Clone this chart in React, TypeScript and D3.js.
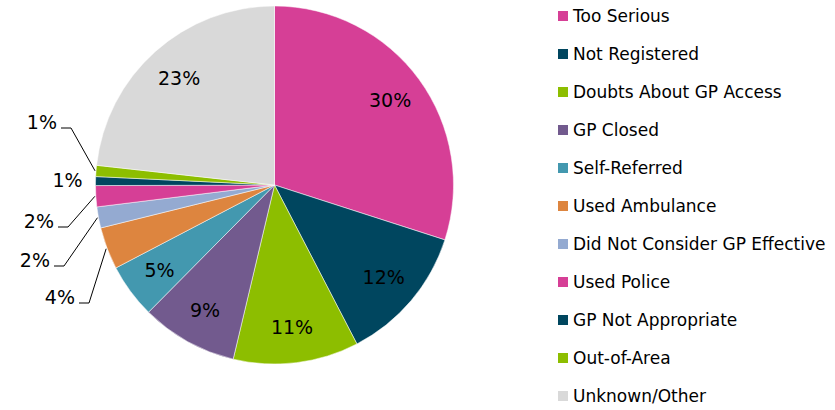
import React from "react";
import * as d3 from "d3";

const categories = [
  "Too Serious",
  "Not Registered",
  "Doubts About GP Access",
  "GP Closed",
  "Self-Referred",
  "Used Ambulance",
  "Did Not Consider GP Effective",
  "Used Police",
  "GP Not Appropriate",
  "Out-of-Area",
  "Unknown/Other",
];
const values = [29.9, 12.4, 11.3, 8.7, 4.9, 3.8, 1.9, 1.9, 0.8, 1.0, 23.2];
const colors = [
  "#D63F96",
  "#00465F",
  "#8DBE00",
  "#725A8E",
  "#4398AF",
  "#DD853F",
  "#94AAD1",
  "#D63F96",
  "#00465F",
  "#8DBE00",
  "#D9D9D9",
];

const W = 835;
const H = 410;
const cx = 274.5;
const cy = 185;
const R = 179;
const FONT = "'DejaVu Sans', Verdana, sans-serif";

// layout for labels placed outside the pie (index -> label y, elbow x)
const outside: Record<number, { y?: number; elbowX?: number; free?: boolean }> = {
  5: { y: 303, elbowX: 89 },
  6: { y: 266, elbowX: 64 },
  7: { y: 227, elbowX: 68 },
  8: { free: true },
  9: { y: 128, elbowX: 71 },
};

export default function App() {
  const total = d3.sum(values);
  const pie = d3.pie<number>().sort(null).value((d) => d)(values);
  const arc = d3.arc<d3.PieArcDatum<number>>().innerRadius(0).outerRadius(R);
  const inLabel = d3.arc<d3.PieArcDatum<number>>().innerRadius(143).outerRadius(143);
  const freeLabel = d3.arc<d3.PieArcDatum<number>>().innerRadius(207).outerRadius(207);
  const edge = d3.arc<d3.PieArcDatum<number>>().innerRadius(R + 1).outerRadius(R + 1);

  const legendY = d3.scaleLinear().domain([0, categories.length - 1]).range([16, 396]);

  return (
    <svg
      width={W}
      height={H}
      style={{ position: "absolute", left: 0, top: 0, background: "#fff" }}
      fontFamily={FONT}
    >
      <g transform={`translate(${cx},${cy})`}>
        {pie.map((p, i) => (
          <path key={i} d={arc(p) || ""} fill={colors[i]} stroke="#fff" strokeWidth={0.5} />
        ))}
        {pie.map((p, i) => {
          const pct = `${Math.round((p.value / total) * 100)}%`;
          const o = outside[i];
          if (!o) {
            const [x, y] = inLabel.centroid(p);
            return (
              <text key={i} x={x} y={y} dy="0.35em" textAnchor="middle" fontSize={19} fill="#000">
                {pct}
              </text>
            );
          }
          if (o.free) {
            const [x, y] = freeLabel.centroid(p);
            return (
              <text key={i} x={x} y={y} dy="0.35em" textAnchor="middle" fontSize={19} fill="#000">
                {pct}
              </text>
            );
          }
          const [ex, ey] = edge.centroid(p);
          const ly = (o.y as number) - cy;
          const elbow = (o.elbowX as number) - cx;
          const start = elbow - 10;
          return (
            <g key={i}>
              <polyline
                points={`${start},${ly} ${elbow},${ly} ${ex},${ey}`}
                fill="none"
                stroke="#000"
                strokeWidth={1}
              />
              <text x={start - 4} y={ly - 6} dy="0.35em" textAnchor="end" fontSize={19} fill="#000">
                {pct}
              </text>
            </g>
          );
        })}
      </g>
      <g>
        {categories.map((c, i) => (
          <g key={c} transform={`translate(558,${legendY(i)})`}>
            <rect x={0} y={-5} width={10} height={10} fill={colors[i]} />
            <text x={15} y={0} dy="0.35em" fontSize={17} fill="#000">
              {c}
            </text>
          </g>
        ))}
      </g>
    </svg>
  );
}
